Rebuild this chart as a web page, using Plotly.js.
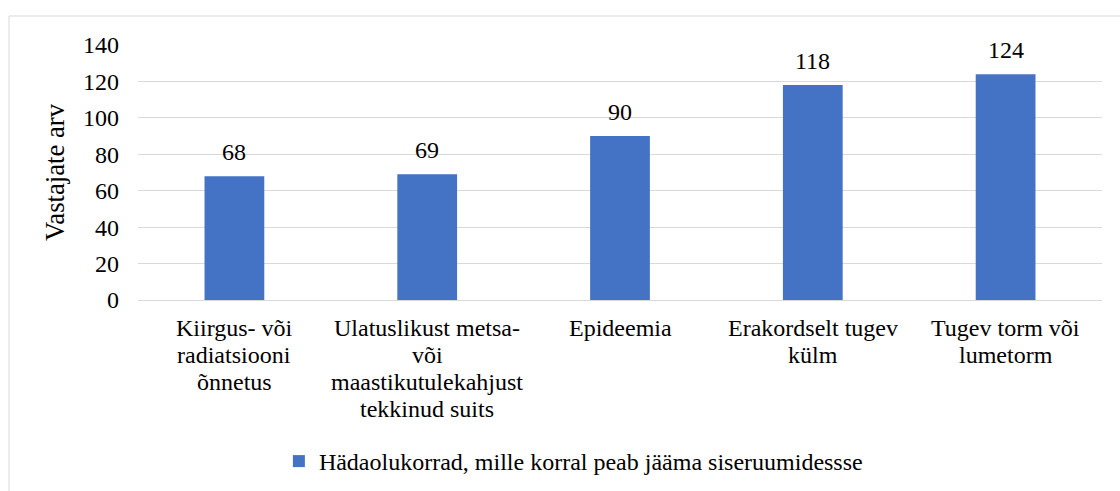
<!DOCTYPE html>
<html>
<head>
<meta charset="utf-8">
<script src="https://cdn.plot.ly/plotly-3.0.1.min.js"></script>
<style>
  html, body { margin: 0; padding: 0; background: #ffffff; }
  #chart { width: 1120px; height: 491px; }
  svg text { font-family: 'Liberation Serif' !important; }
</style>
</head>
<body>
<div id="chart"></div>
<script>
// ---- data ----
const categories = [
  "Kiirgus- või radiatsiooni õnnetus",
  "Ulatuslikust metsa- või maastikutulekahjust tekkinud suits",
  "Epideemia",
  "Erakordselt tugev külm",
  "Tugev torm või lumetorm"
];
const tickLabelLines = [
  ["Kiirgus- või", "radiatsiooni", "õnnetus"],
  ["Ulatuslikust metsa-", "või", "maastikutulekahjust", "tekkinud suits"],
  ["Epideemia"],
  ["Erakordselt tugev", "külm"],
  ["Tugev torm või", "lumetorm"]
];
const values = [68, 69, 90, 118, 124];
const seriesName = "Hädaolukorrad, mille korral peab jääma siseruumidessse";
const yTitle = "Vastajate arv";
const yTickVals = [0, 20, 40, 60, 80, 100, 120, 140];

// ---- styling ----
const FONT = "Liberation Serif";
const BAR = "#4472C4";
const GRID = "#D9D9D9";

const annotations = [];
// value labels above bars
categories.forEach((c, i) => {
  annotations.push({
    x: c, y: values[i], xref: "x", yref: "y",
    text: String(values[i]), showarrow: false,
    yanchor: "bottom", yshift: 9,
    font: { family: FONT, size: 24, color: "black" }
  });
});
// multi-line category labels (one annotation per line for Excel-like line spacing)
categories.forEach((c, i) => {
  tickLabelLines[i].forEach((line, j) => {
    annotations.push({
      x: c, y: 0, xref: "x", yref: "paper",
      text: line, showarrow: false,
      yanchor: "middle", yshift: -27.6 - 27.2 * j,
      font: { family: FONT, size: 24, color: "black" }
    });
  });
});

const trace = {
  type: "bar",
  x: categories,
  y: values,
  name: seriesName,
  marker: { color: BAR },
  showlegend: true
};

const layout = {
  width: 1120, height: 491,
  margin: { l: 138, r: 18, t: 45, b: 191 },
  paper_bgcolor: "white",
  plot_bgcolor: "white",
  font: { family: FONT, size: 24, color: "black" },
  bargap: 0.69,
  showlegend: true,
  xaxis: {
    type: "category",
    showticklabels: false,
    showgrid: false,
    zeroline: false,
    showline: false,
    ticks: ""
  },
  yaxis: {
    range: [0, 140],
    tickvals: yTickVals,
    showgrid: true,
    gridcolor: GRID,
    gridwidth: 1,
    zeroline: true,
    zerolinecolor: GRID,
    zerolinewidth: 1,
    showline: false,
    ticks: "",
    ticklabelstandoff: 18,
    tickfont: { family: FONT, size: 24, color: "black" },
    title: { text: yTitle, font: { family: FONT, size: 26.7, color: "black" }, standoff: 10 }
  },
  legend: {
    orientation: "h",
    xref: "container", yref: "container",
    x: 0.2490, xanchor: "left",
    y: 1 - 461.5 / 491, yanchor: "middle",
    font: { family: FONT, size: 24, color: "black" },
    bgcolor: "rgba(0,0,0,0)",
    borderwidth: 0
  },
  shapes: [{
    type: "rect", xref: "paper", yref: "paper",
    x0: (9 - 138) / 964, x1: 1.06,
    y0: -1.2, y1: (300 - 16) / 255,
    line: { color: GRID, width: 1 },
    fillcolor: "rgba(0,0,0,0)",
    layer: "below"
  }],
  annotations: annotations
};

Plotly.newPlot("chart", [trace], layout, { displayModeBar: false });
</script>
</body>
</html>
